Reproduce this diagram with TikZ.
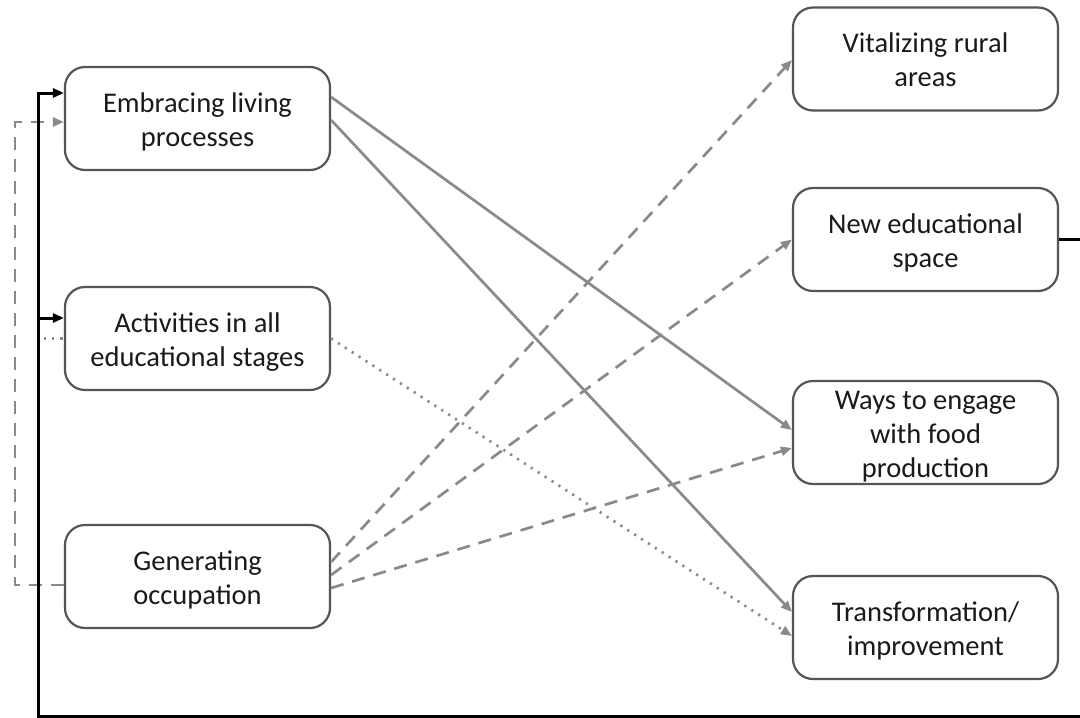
\documentclass[tikz,border=0pt]{standalone}
\usepackage{fontspec}
\setmainfont{Carlito}
\usetikzlibrary{arrows.meta}
\definecolor{boxline}{HTML}{555555}
\definecolor{arrgray}{HTML}{8A8A8A}
\definecolor{txt}{HTML}{1A1A1A}
\newcommand\boxtxt[1]{\raisebox{-4pt}[\height][\depth]{\begin{tabular}{@{}c@{}}#1\end{tabular}}}
\begin{document}
\begin{tikzpicture}[x=1pt,y=-1pt,
  box/.style={draw=boxline,line width=2.2pt,rounded corners=20pt,minimum width=265pt,minimum height=103pt,
    text=txt,font=\fontsize{28.5}{34}\selectfont,inner sep=0pt},
  solidarr/.style={draw=arrgray,line width=2.7pt,-{Triangle[length=11pt,width=9pt]}},
  dasharr/.style={solidarr,dash pattern=on 13pt off 9pt},
  dotarr/.style={solidarr,dash pattern=on 2.2pt off 6pt},
  blk/.style={draw=black,line width=3pt},
  blkarr/.style={blk,-{Triangle[length=11pt,width=9pt]}}]
\useasboundingbox (0,0) rectangle (1080,718);
\fill[white] (0,0) rectangle (1080,718);

\node[box] (E) at (197.5,118.5) {\boxtxt{Embracing living\\processes}};
\node[box] (A) at (197.5,338.5) {\boxtxt{Activities in all\\educational stages}};
\node[box] (G) at (197.5,576.5) {\boxtxt{Generating\\occupation}};
\node[box] (V) at (925.5,59) {\boxtxt{Vitalizing rural\\areas}};
\node[box] (N) at (925.5,239.5) {\boxtxt{New educational\\space}};
\node[box] (W) at (925.5,432.5) {\boxtxt{Ways to engage\\with food\\production}};
\node[box] (T) at (925.5,627.5) {\boxtxt{Transformation/\\improvement}};

% solid gray
\draw[solidarr] ([yshift=21.5pt]E.east) -- ([yshift=2.5pt]W.west);
\draw[solidarr] ([yshift=-1.5pt]E.east) -- ([yshift=15.5pt]T.west);
% dotted
\draw[dotarr] (A.east) -- ([yshift=-8.5pt]T.west);
% dashed from Generating
\draw[dasharr] ([yshift=14.5pt]G.east) -- ([yshift=-1pt]V.west);
\draw[dasharr] ([yshift=1.5pt]G.east) -- (N.west);
\draw[dasharr] ([yshift=-11.5pt]G.east) -- ([yshift=-15.5pt]W.west);

% gray dashed feedback loop
\coordinate (gl1) at (15,585);
\coordinate (gl2) at (15,122);
\draw[dasharr] ([yshift=-8.5pt]G.west) -- (gl1) -- (gl2) -- ([yshift=-3.5pt]E.west);
% short dotted at Activities
\coordinate (dl) at (44,338.5);
\draw[draw=arrgray,line width=2.7pt,dash pattern=on 2.2pt off 6pt] (dl) -- (A.west);

% black feedback loop
\coordinate (b1) at (1081,239.5);
\coordinate (b2) at (1081,716);
\coordinate (b3) at (38,716);
\coordinate (b4) at (38,93);
\coordinate (b5) at (38,318);
\draw[blkarr] (N.east) -- (b1) -- (b2) -- (b3) -- (b4) -- ([yshift=25.5pt]E.west);
\draw[blkarr] (b5) -- ([yshift=20.5pt]A.west);
\end{tikzpicture}
\end{document}
